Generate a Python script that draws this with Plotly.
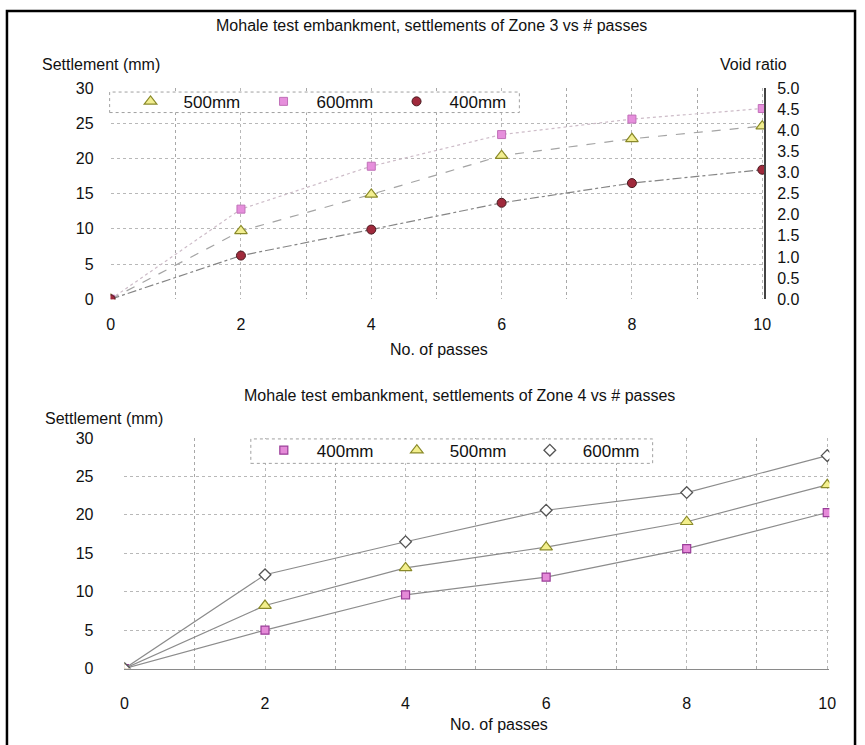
import plotly.graph_objects as go

W, H = 865, 745

# ---------------- data ----------------
passes = [0, 2, 4, 6, 8, 10]

z3_labels = ["500mm", "600mm", "400mm"]
z3_500 = [0, 9.7, 14.9, 20.4, 22.8, 24.6]
z3_600 = [0, 12.8, 18.9, 23.4, 25.6, 27.1]
z3_400 = [0, 6.2, 9.9, 13.7, 16.5, 18.4]

z4_labels = ["400mm", "500mm", "600mm"]
z4_400 = [0, 5.0, 9.6, 11.9, 15.6, 20.3]
z4_500 = [0, 8.2, 13.1, 15.8, 19.1, 23.9]
z4_600 = [0, 12.2, 16.5, 20.6, 22.9, 27.7]

settle_ticks = [0, 5, 10, 15, 20, 25, 30]
void_ticks = [0.0, 0.5, 1.0, 1.5, 2.0, 2.5, 3.0, 3.5, 4.0, 4.5, 5.0]
pass_ticks = [0, 2, 4, 6, 8, 10]

title3 = "Mohale test embankment, settlements of Zone 3 vs # passes"
title4 = "Mohale test embankment, settlements of Zone 4 vs # passes"

FONT = "Liberation Sans, Arial, sans-serif"


def px(x):
    return x / W


def py(y):
    return 1 - y / H


fig = go.Figure()


def series(xs, ys, name, line, marker, xa, ya, leg):
    fig.add_trace(go.Scatter(x=xs, y=ys, mode="lines", line=line,
                             xaxis=xa, yaxis=ya, showlegend=False,
                             hoverinfo="skip"))
    fig.add_trace(go.Scatter(x=xs, y=ys, mode="markers", name=name,
                             marker=marker, xaxis=xa, yaxis=ya, legend=leg))


# ---------- Zone 3 (top) ----------
series(passes, z3_500, z3_labels[0],
       dict(color="#a4a4a4", width=1.2, dash="dash"),
       dict(symbol="triangle-up", size=11, color="#f2ee90",
            line=dict(color="#8a8a2a", width=1.2)),
       "x", "y", "legend")
series(passes, z3_600, z3_labels[1],
       dict(color="#cdbcc8", width=1.2, dash="dot"),
       dict(symbol="square", size=8, color="#e68fdc",
            line=dict(color="#c070b8", width=1)),
       "x", "y", "legend")
series(passes, z3_400, z3_labels[2],
       dict(color="#858585", width=1.2, dash="dashdot"),
       dict(symbol="circle", size=9, color="#a02a3c",
            line=dict(color="#4a1a20", width=1)),
       "x", "y", "legend")
fig.add_trace(go.Scatter(x=[None], y=[None], xaxis="x", yaxis="y2",
                         showlegend=False, hoverinfo="skip"))

# ---------- Zone 4 (bottom) ----------
series(passes, z4_400, z4_labels[0],
       dict(color="#8c8c8c", width=1.2),
       dict(symbol="square", size=8, color="#e58ad8",
            line=dict(color="#9a3c98", width=1.2)),
       "x2", "y3", "legend2")
series(passes, z4_500, z4_labels[1],
       dict(color="#8c8c8c", width=1.2),
       dict(symbol="triangle-up", size=11, color="#f3ef8c",
            line=dict(color="#8a8a2a", width=1.2)),
       "x2", "y3", "legend2")
series(passes, z4_600, z4_labels[2],
       dict(color="#8c8c8c", width=1.2),
       dict(symbol="diamond", size=9, color="white",
            line=dict(color="#555555", width=1.3)),
       "x2", "y3", "legend2")

tickfont = dict(family=FONT, size=16, color="#111")
grid = dict(showgrid=True, gridcolor="#b8b8b8", griddash="dot", gridwidth=1)
legfont = dict(family=FONT, size=17, color="#111")

fig.update_layout(
    width=W, height=H, autosize=False,
    margin=dict(l=0, r=0, t=0, b=0),
    paper_bgcolor="white", plot_bgcolor="white",
    font=dict(family=FONT, size=15, color="#111"),
    xaxis=dict(domain=[px(108), px(770)], range=[0, 10.03], anchor="y",
               tickvals=pass_ticks, tickfont=tickfont, ticks="",
               ticklabelstandoff=14, zeroline=False,
               minor=dict(dtick=1, showgrid=True, gridcolor="#a8a8a8", griddash="dot"),
               **grid),
    yaxis=dict(domain=[py(298), py(82)], range=[0, 30], anchor="x",
               tickvals=settle_ticks, tickfont=tickfont, ticks="",
               ticklabelstandoff=16, zeroline=False, **grid),
    yaxis2=dict(overlaying="y", side="right", anchor="x", range=[0, 5],
                tickvals=void_ticks, tickformat=".1f", tickfont=tickfont,
                ticks="", ticklabelstandoff=8, showgrid=False, zeroline=False,
                showline=True, linecolor="#444", linewidth=1.5),
    xaxis2=dict(domain=[px(122), px(836)], range=[0, 10.03], anchor="y3",
                tickvals=pass_ticks, tickfont=tickfont, ticks="",
                ticklabelstandoff=20, zeroline=False,
                showline=True, linecolor="#8a8a8a", linewidth=1.2,
                minor=dict(dtick=1, showgrid=True, gridcolor="#a8a8a8", griddash="dot"),
                **grid),
    yaxis3=dict(domain=[py(676), py(440)], range=[0, 30], anchor="x2",
                tickvals=settle_ticks, tickfont=tickfont, ticks="",
                ticklabelstandoff=30, zeroline=False, **grid),
    legend=dict(orientation="h", x=px(115), y=py(96), xanchor="left", yanchor="middle",
                bgcolor="rgba(0,0,0,0)", borderwidth=0,
                font=legfont, itemwidth=56, entrywidth=62),
    legend2=dict(orientation="h", x=px(250), y=py(453), xanchor="left", yanchor="middle",
                 bgcolor="rgba(0,0,0,0)", borderwidth=0,
                 font=legfont, itemwidth=56, entrywidth=62),
    showlegend=True,
)

for (l, t, r, b) in [(107, 86, 522, 107), (250, 441, 657, 466)]:
    fig.add_shape(type="rect", xref="paper", yref="paper",
                  x0=px(l), x1=px(r), y0=py(b), y1=py(t), layer="above",
                  line=dict(color="#a0a0a0", width=1, dash="dot"),
                  fillcolor="white")


def ann(text, x, y, xanchor="center", size=16):
    fig.add_annotation(text=text, x=px(x), y=py(y), xref="paper", yref="paper",
                       xanchor=xanchor, yanchor="middle", showarrow=False,
                       font=dict(family=FONT, size=size, color="#111"))


ann(title3, 433, 18)
ann("Settlement (mm)", 36, 58, xanchor="left")
ann("Void ratio", 759, 58)
ann("No. of passes", 441, 349)
ann(title4, 461, 397)
ann("Settlement (mm)", 40, 420, xanchor="left")
ann("No. of passes", 501, 733)

# outer black frame of the picture (left, top, right edges)
fig.add_shape(type="rect", xref="paper", yref="paper",
              x0=px(3), x1=px(862), y0=-0.02, y1=py(3),
              line=dict(color="black", width=2.5), fillcolor="rgba(0,0,0,0)")

# pin the figure to the top-left corner of the window, page exactly window-sized
pin = (
    "document.documentElement.style.margin='0';"
    "document.documentElement.style.padding='0';"
    "document.documentElement.style.overflow='hidden';"
    "document.body.style.margin='0';"
    "document.body.style.padding='0';"
    "document.body.style.overflow='hidden';"
    "var gd=document.getElementById('{plot_id}');"
    "gd.style.position='fixed';gd.style.left='0px';gd.style.top='0px';"
)

fig.write_html("out.html", config={"displayModeBar": False}, post_script=pin)
